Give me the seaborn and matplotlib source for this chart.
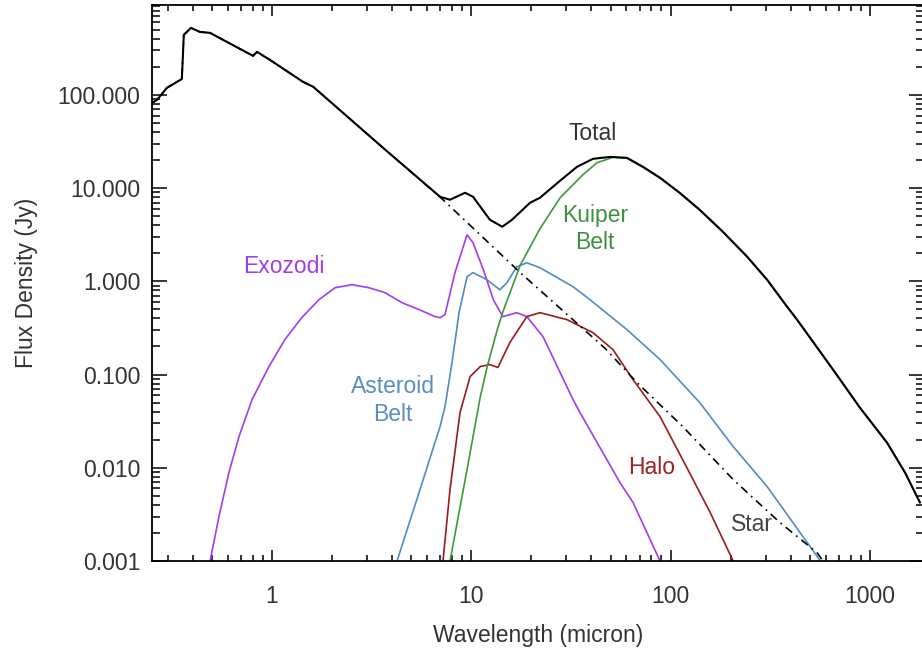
import matplotlib
matplotlib.use("Agg")
import matplotlib.pyplot as plt
import seaborn as sns
from matplotlib.ticker import LogLocator, FixedLocator, FormatStrFormatter, NullFormatter

# values (wavelength in micron, flux in Jy)
total_wl = [0.25, 0.265, 0.297, 0.353, 0.361, 0.392, 0.435, 0.489, 0.803, 0.841, 0.977,
            1.43, 1.61, 3.61, 6.97, 7.82, 9.30, 10.2, 12.4, 14.3, 16.0, 19.7, 22.1, 27.9,
            33.9, 40.8, 49.7, 60.4, 72.7, 88.5, 111, 140, 183, 242, 305, 384, 431, 531, 653,
            892, 1219, 1500, 1783]
total_flux = [82, 88.4, 119, 148, 440, 523, 473, 462, 262, 289, 237,
              138, 122, 27.0, 8.07, 7.50, 8.91, 8.07, 4.57, 3.85, 4.57, 6.95, 7.87, 12.0,
              16.9, 20.6, 21.6, 21.1, 16.9, 12.9, 8.91, 5.85, 3.40, 1.84, 1.04, 0.535, 0.388,
              0.209, 0.113, 0.044, 0.0186, 0.0089, 0.00424]

star_wl = [0.25, 0.265, 0.297, 0.353, 0.361, 0.392, 0.435, 0.489, 0.803, 0.841, 0.977,
           1.43, 1.61, 3.61, 7.21, 17.6, 47.0, 67.8, 115, 206, 354, 543, 582]
star_flux = [82, 88.4, 119, 148, 440, 523, 473, 462, 262, 289, 237,
             138, 122, 27.0, 7.50, 1.24, 0.19, 0.082, 0.0277, 0.00748, 0.00258, 0.00123, 0.001]

kuiper_wl = [7.82, 9.52, 11.1, 12.0, 13.5, 14.4, 17.6, 22.1, 27.9, 36.3, 42.7, 51.4, 60.4,
             72.7, 88.5, 111, 140, 183, 242, 305, 384, 431, 531, 653, 892, 1219, 1500, 1783]
kuiper_flux = [0.001, 0.00957, 0.058, 0.12, 0.303, 0.47, 1.49, 3.66, 7.87, 13.9, 18.7, 21.4,
               20.9, 16.7, 12.8, 8.85, 5.8, 3.37, 1.83, 1.03, 0.532, 0.386, 0.208, 0.1125,
               0.0438, 0.0185, 0.00886, 0.00422]

asteroid_wl = [4.24, 5.53, 6.97, 7.38, 8.00, 8.68, 9.52, 10.2, 12.0, 13.9, 15.1, 16.9, 19.0,
               22.1, 32.4, 39.4, 60.4, 88.5, 140, 206, 305, 446, 565]
asteroid_flux = [0.001, 0.00584, 0.0277, 0.0453, 0.134, 0.461, 1.12, 1.24, 1.04, 0.812, 0.966,
                 1.43, 1.58, 1.40, 0.875, 0.635, 0.303, 0.145, 0.050, 0.0169, 0.00629, 0.00202, 0.001]

halo_wl = [7.21, 7.82, 8.78, 9.86, 11.1, 12.4, 13.6, 15.6, 19.0, 22.1, 30.2, 40.8, 51.4,
           64.8, 88.5, 115, 158, 206]
halo_flux = [0.001, 0.00584, 0.0391, 0.095, 0.122, 0.128, 0.119, 0.220, 0.418, 0.461, 0.388,
             0.281, 0.185, 0.088, 0.0354, 0.0122, 0.00331, 0.001]

exozodi_wl = [0.489, 0.542, 0.608, 0.683, 0.794, 0.966, 1.16, 1.41, 1.72, 2.07, 2.52, 3.07,
              3.69, 4.49, 5.47, 6.58, 6.97, 7.38, 8.28, 9.52, 10.2, 11.5, 12.9, 14.4, 16.9,
              19.0, 22.9, 32.4, 35.1, 55.7, 64.8, 88.5]
exozodi_flux = [0.001, 0.0030, 0.0089, 0.0216, 0.0538, 0.122, 0.237, 0.407, 0.635, 0.853,
                0.920, 0.853, 0.755, 0.590, 0.497, 0.418, 0.407, 0.439, 1.24, 3.16, 2.59, 1.33,
                0.635, 0.418, 0.461, 0.418, 0.255, 0.0538, 0.0391, 0.00694, 0.00424, 0.001]

sns.set_style("ticks")
plt.rcParams["font.family"] = ["Liberation Sans", "DejaVu Sans"]

fig = plt.figure(figsize=(9.22, 6.51), dpi=100)
# right spine sits just past the image edge, as in the reference
ax = fig.add_axes([152 / 922, 1 - 561 / 651, (924 - 152) / 922, (561 - 5) / 651])

purple = "#A23CEE"
blue = "#4F8CC6"
red = "#991B1B"
green = "#3A9A3A"

sns.lineplot(x=exozodi_wl, y=exozodi_flux, ax=ax, color=purple, lw=1.2, sort=False)
sns.lineplot(x=asteroid_wl, y=asteroid_flux, ax=ax, color=blue, lw=1.2, sort=False)
sns.lineplot(x=halo_wl, y=halo_flux, ax=ax, color=red, lw=1.2, sort=False)
sns.lineplot(x=star_wl, y=star_flux, ax=ax, color="black", lw=1.2, sort=False,
             linestyle=(0, (5, 3, 1, 3)))
sns.lineplot(x=kuiper_wl, y=kuiper_flux, ax=ax, color=green, lw=1.2, sort=False)
sns.lineplot(x=total_wl, y=total_flux, ax=ax, color="black", lw=1.5, sort=False)

ax.set_xscale("log")
ax.set_yscale("log")
ax.set_xlim(0.25, 1868)
ax.set_ylim(0.001, 920)

ax.xaxis.set_major_locator(FixedLocator([1, 10, 100, 1000]))
ax.xaxis.set_major_formatter(FormatStrFormatter("%d"))
ax.xaxis.set_minor_locator(LogLocator(base=10, subs=range(2, 10)))
ax.xaxis.set_minor_formatter(NullFormatter())
ax.yaxis.set_major_locator(FixedLocator([0.001, 0.01, 0.1, 1, 10, 100]))
ax.yaxis.set_major_formatter(FormatStrFormatter("%.3f"))
ax.yaxis.set_minor_locator(LogLocator(base=10, subs=range(2, 10)))
ax.yaxis.set_minor_formatter(NullFormatter())

ax.tick_params(which="both", direction="in", top=True, right=True, color="black", width=1.1)
ax.tick_params(axis="x", which="major", length=8, pad=17, labelsize=16.5, labelcolor="#333333")
ax.tick_params(axis="x", which="minor", length=4.3)
ax.tick_params(axis="y", which="major", length=11, pad=8.5, labelsize=16.5, labelcolor="#333333")
ax.tick_params(axis="y", which="minor", length=6)
for s in ax.spines.values():
    s.set_linewidth(1.3)
    s.set_color("black")

ax.set_xlabel("Wavelength (micron)", fontsize=16.5, color="#333333", labelpad=12)
ax.set_ylabel("Flux Density (Jy)", fontsize=16.5, color="#333333", labelpad=14)

lab = dict(fontsize=16.5, ha="center", va="center")
ax.text(40.8, 38.2, "Total", color="#333333", **lab)
ax.text(41.8, 3.66, "Kuiper\nBelt", color="#3D913F", linespacing=1.25, **lab)
ax.text(1.15, 1.43, "Exozodi", color="#A040E0", **lab)
ax.text(4.05, 0.0525, "Asteroid\nBelt", color="#5A8EC2", linespacing=1.25, **lab)
ax.text(80.7, 0.0100, "Halo", color="#9B2222", **lab)
ax.text(256, 0.00246, "Star", color="#444444", **lab)

fig.savefig("out.png", dpi=100)
